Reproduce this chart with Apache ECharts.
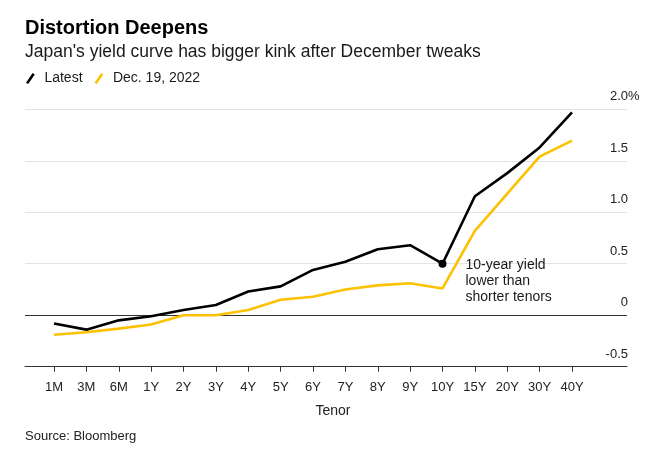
<!DOCTYPE html>
<html>
<head>
<meta charset="utf-8">
<script src="https://cdn.jsdelivr.net/npm/echarts@6/dist/echarts.min.js"></script>
<style>
html,body{margin:0;padding:0;background:#fff;}
#chart{width:670px;height:455px;}
</style>
</head>
<body>
<div id="chart"></div>
<script>
const titleText = 'Distortion Deepens';
const subtitleText = "Japan's yield curve has bigger kink after December tweaks";
const sourceText = 'Source: Bloomberg';
const axisName = 'Tenor';
const seriesNames = ['Latest', 'Dec. 19, 2022'];
const annotation = '10-year yield\nlower than\nshorter tenors';

const categories = ['1M','3M','6M','1Y','2Y','3Y','4Y','5Y','6Y','7Y','8Y','9Y','10Y','15Y','20Y','30Y','40Y'];
const latest = [-0.08, -0.14, -0.05, -0.01, 0.05, 0.10, 0.23, 0.28, 0.44, 0.52, 0.64, 0.68, 0.50, 1.155, 1.38, 1.63, 1.97];
const dec19  = [-0.19, -0.165, -0.13, -0.09, 0.0, 0.0, 0.05, 0.15, 0.18, 0.25, 0.29, 0.31, 0.26, 0.82, 1.18, 1.54, 1.695];

const yTicks = [-0.5, 0, 0.5, 1.0, 1.5, 2.0];
const yTickLabels = ['-0.5', '0', '0.5', '1.0', '1.5', '2.0%'];
const annotatedCategory = '10Y';

const FONT = '"Liberation Sans", Arial, Helvetica, sans-serif';
const BLACK = '#000000';
const YELLOW = '#FCC200';
const GRID_TOP = 109.3, GRID_BOTTOM = 88.3;

function labelFor(v) {
  const i = yTicks.findIndex(t => Math.abs(t - v) < 1e-9);
  return i < 0 ? '' : yTickLabels[i];
}

const chart = echarts.init(document.getElementById('chart'), null, {renderer: 'canvas'});
const slash = 'path://M0,10.5 L7.2,0 L9.6,1.5 L2.4,12 Z';

const latestData = latest.map((v, i) => {
  if (categories[i] !== annotatedCategory) return v;
  return {
    value: v,
    symbol: 'circle',
    symbolSize: 8,
    itemStyle: {color: BLACK},
    label: {
      show: true,
      position: 'right',
      distance: 19,
      align: 'left',
      verticalAlign: 'top',
      offset: [0, -7],
      lineHeight: 16,
      fontSize: 14,
      fontFamily: FONT,
      color: '#1a1a1a',
      formatter: annotation
    }
  };
});

chart.setOption({
  animation: false,
  backgroundColor: '#ffffff',
  textStyle: {fontFamily: FONT},
  title: [
    {text: titleText, left: 25, top: 18, padding: 0,
     textStyle: {fontSize: 20, fontWeight: 'bold', color: '#000', fontFamily: FONT, lineHeight: 20}},
    {text: subtitleText, left: 25, top: 43.8, padding: 0,
     textStyle: {fontSize: 17.5, fontWeight: 'normal', color: '#1a1a1a', fontFamily: FONT, lineHeight: 17.5}},
    {text: sourceText, left: 25, top: 430, padding: 0,
     textStyle: {fontSize: 13, fontWeight: 'normal', color: '#222', fontFamily: FONT, lineHeight: 13}}
  ],
  legend: {
    left: 26, top: 71.5, padding: 0,
    itemWidth: 10, itemHeight: 11, itemGap: 12,
    selectedMode: false,
    data: [
      {name: seriesNames[0], icon: slash, itemStyle: {color: BLACK}},
      {name: seriesNames[1], icon: slash, itemStyle: {color: YELLOW}}
    ],
    textStyle: {fontSize: 14, color: '#1a1a1a', fontFamily: FONT, padding: [0, 0, 0, 4], lineHeight: 14}
  },
  grid: [
    {left: 25, right: 43, top: GRID_TOP, bottom: GRID_BOTTOM, containLabel: false},
    {left: 54, right: 98, top: GRID_TOP, bottom: GRID_BOTTOM, containLabel: false}
  ],
  xAxis: [
    {gridIndex: 0, type: 'value', min: 0, max: 1,
     axisLine: {show: true, onZero: false, lineStyle: {color: '#333', width: 1}},
     axisTick: {show: false}, axisLabel: {show: false}, splitLine: {show: false}},
    {gridIndex: 1, type: 'category', data: categories, boundaryGap: false,
     axisLine: {show: false, onZero: false},
     axisTick: {show: true, length: 5, lineStyle: {color: '#333', width: 1}},
     axisLabel: {show: true, margin: 14, fontSize: 13, color: '#222', fontFamily: FONT, interval: 0},
     splitLine: {show: false},
     name: axisName, nameLocation: 'middle', nameGap: 37,
     nameTextStyle: {fontSize: 14, color: '#222', fontFamily: FONT, padding: [0, 0, 0, 40]}}
  ],
  yAxis: [
    {gridIndex: 0, type: 'value', position: 'right', min: -0.5, max: 2.0, interval: 0.5,
     axisLine: {show: false}, axisTick: {show: false},
     axisLabel: {show: true, inside: false, margin: 1, align: 'right', verticalAlign: 'bottom',
       fontSize: 13, color: '#222', fontFamily: FONT, lineHeight: 15, padding: [0, 0, 5, 0],
       formatter: v => labelFor(v).replace('%', '')},
     splitLine: {show: true, lineStyle: {color: ['#333', '#333', '#e3e3e3', '#e3e3e3', '#e3e3e3', '#e3e3e3'], width: 1}}},
    {gridIndex: 0, type: 'value', position: 'right', min: -0.5, max: 2.0, interval: 0.5,
     axisLine: {show: false}, axisTick: {show: false}, splitLine: {show: false},
     axisLabel: {show: true, margin: 1, align: 'left', verticalAlign: 'bottom',
       fontSize: 13, color: '#222', fontFamily: FONT, lineHeight: 15, padding: [0, 0, 5, 0],
       formatter: v => { const s = labelFor(v); return s.indexOf('%') >= 0 ? '%' : ''; }}},
    {gridIndex: 1, type: 'value', min: -0.5, max: 2.0, interval: 0.5, show: false,
     splitLine: {show: false}}
  ],
  series: [
    {name: seriesNames[1], type: 'line', xAxisIndex: 1, yAxisIndex: 2, data: dec19,
     symbol: 'none', showSymbol: false, lineStyle: {color: YELLOW, width: 2.6}, itemStyle: {color: YELLOW},
     z: 3, silent: true},
    {name: seriesNames[0], type: 'line', xAxisIndex: 1, yAxisIndex: 2, data: latestData,
     symbol: 'none', lineStyle: {color: BLACK, width: 2.6}, itemStyle: {color: BLACK},
     z: 4, silent: true}
  ]
});
</script>
</body>
</html>
